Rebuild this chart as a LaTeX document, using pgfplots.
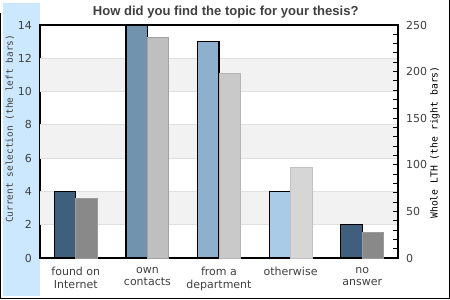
\documentclass[border=0pt]{standalone}
\usepackage{fontspec}
\setmainfont{DejaVu Sans}
\newfontfamily\titlefont{Liberation Sans}
\newfontfamily\labelmono{DejaVu Sans Mono}
\usepackage{pgfplots}
\pgfplotsset{compat=1.18}
\definecolor{txt}{HTML}{404040}
\definecolor{strip}{HTML}{CCE8FF}
\definecolor{band}{HTML}{F2F2F2}
\definecolor{gridc}{HTML}{E0E0E0}
\definecolor{lA}{HTML}{405F7C}
\definecolor{lB}{HTML}{7293AE}
\definecolor{lC}{HTML}{8FB0CC}
\definecolor{lD}{HTML}{A9CBE8}
\definecolor{rA}{HTML}{898989}
\definecolor{rB}{HTML}{BFBFBF}
\definecolor{rC}{HTML}{C9C9C9}
\definecolor{rD}{HTML}{D6D6D6}
\begin{document}
\begin{tikzpicture}
\path[use as bounding box] (0,0) rectangle (337.5pt,225pt);
\fill[white] (0,0) rectangle (337.5pt,225pt);
\fill[strip] (2.25pt,3pt) rectangle (30pt,222.75pt);
\draw[black,line width=1pt] (0.5pt,215pt) -- (0.5pt,1pt) -- (336.9pt,1pt) -- (336.9pt,225pt);
\node[font=\titlefont\bfseries\fontsize{9.8}{12}\selectfont, text=txt, anchor=base] at (169.3pt,213pt) {How did you find the topic for your thesis?};
\node[rotate=90, font=\labelmono\fontsize{7.3}{8}\selectfont, text=black] at (326.25pt,118.1pt) {Whole LTH (the right bars)};
\pgfplotsset{
  common/.style={
    at={(30pt,31.5pt)}, anchor=south west, scale only axis,
    width=268.5pt, height=174.75pt,
    xmin=-0.5, xmax=4.5,
    /pgf/number format/assume math mode=true,
    tick label style={font=\fontsize{8.25}{9}\selectfont, text=txt},
    axis line style={line width=1.1pt, black},
  },
  lbar/.style={ybar, bar width=0.3, bar shift=0pt, draw=black, line width=0.9pt},
  rbar/.style={ybar, bar width=0.3, bar shift=0pt, line width=0.6pt},
}
\begin{axis}[common,
  ymin=0, ymax=14,
  xtick={0,1,2,3,4},
  xticklabels={{found on\\Internet},{own\\contacts},{from a\\department},{otherwise},{no\\answer}},
  xticklabel style={align=center, yshift=-3.5pt, font=\fontsize{8.25}{9.3}\selectfont},
  ytick={0,2,...,14},
  yticklabel style={xshift=-2.5pt},
  major tick length=0pt,
  ylabel={Current selection (the left bars)},
  ylabel style={at={(axis description cs:-0.084,0.554)}, anchor=center, font=\labelmono\fontsize{7.1}{8}\selectfont, text=txt},
]
\fill[band] (axis cs:-0.5,2) rectangle (axis cs:4.5,4);
\fill[band] (axis cs:-0.5,6) rectangle (axis cs:4.5,8);
\fill[band] (axis cs:-0.5,10) rectangle (axis cs:4.5,12);
\draw[gridc, line width=0.8pt] (axis cs:-0.5,2) -- (axis cs:4.5,2);
\draw[gridc, line width=0.8pt] (axis cs:-0.5,4) -- (axis cs:4.5,4);
\draw[gridc, line width=0.8pt] (axis cs:-0.5,6) -- (axis cs:4.5,6);
\draw[gridc, line width=0.8pt] (axis cs:-0.5,8) -- (axis cs:4.5,8);
\draw[gridc, line width=0.8pt] (axis cs:-0.5,10) -- (axis cs:4.5,10);
\draw[gridc, line width=0.8pt] (axis cs:-0.5,12) -- (axis cs:4.5,12);
\addplot[lbar, fill=lA] coordinates {(-0.15,4)};
\addplot[lbar, fill=lB] coordinates {(0.85,14)};
\addplot[lbar, fill=lC] coordinates {(1.85,13)};
\addplot[lbar, fill=lD] coordinates {(2.85,4)};
\addplot[lbar, fill=lA] coordinates {(3.85,2)};
\end{axis}
\begin{axis}[common,
  ymin=0, ymax=250,
  axis x line=none, axis y line*=right,
  ytick={0,50,...,250},
  minor ytick={10,20,30,40,60,70,80,90,110,120,130,140,160,170,180,190,210,220,230,240},
  tick align=inside,
  major tick length=4pt, minor tick length=4pt,
  tick style={black, line width=0.7pt},
  yticklabel style={xshift=2.5pt},
]
\addplot[rbar, fill=rA, draw=rA!85!white] coordinates {(0.15,64)};
\addplot[rbar, fill=rB, draw=rB!85!black] coordinates {(1.15,237)};
\addplot[rbar, fill=rC, draw=rC!90!black] coordinates {(2.15,198)};
\addplot[rbar, fill=rD, draw=rD!90!black] coordinates {(3.15,97)};
\addplot[rbar, fill=rA, draw=rA!85!white] coordinates {(4.15,28)};
\end{axis}
\end{tikzpicture}
\end{document}
